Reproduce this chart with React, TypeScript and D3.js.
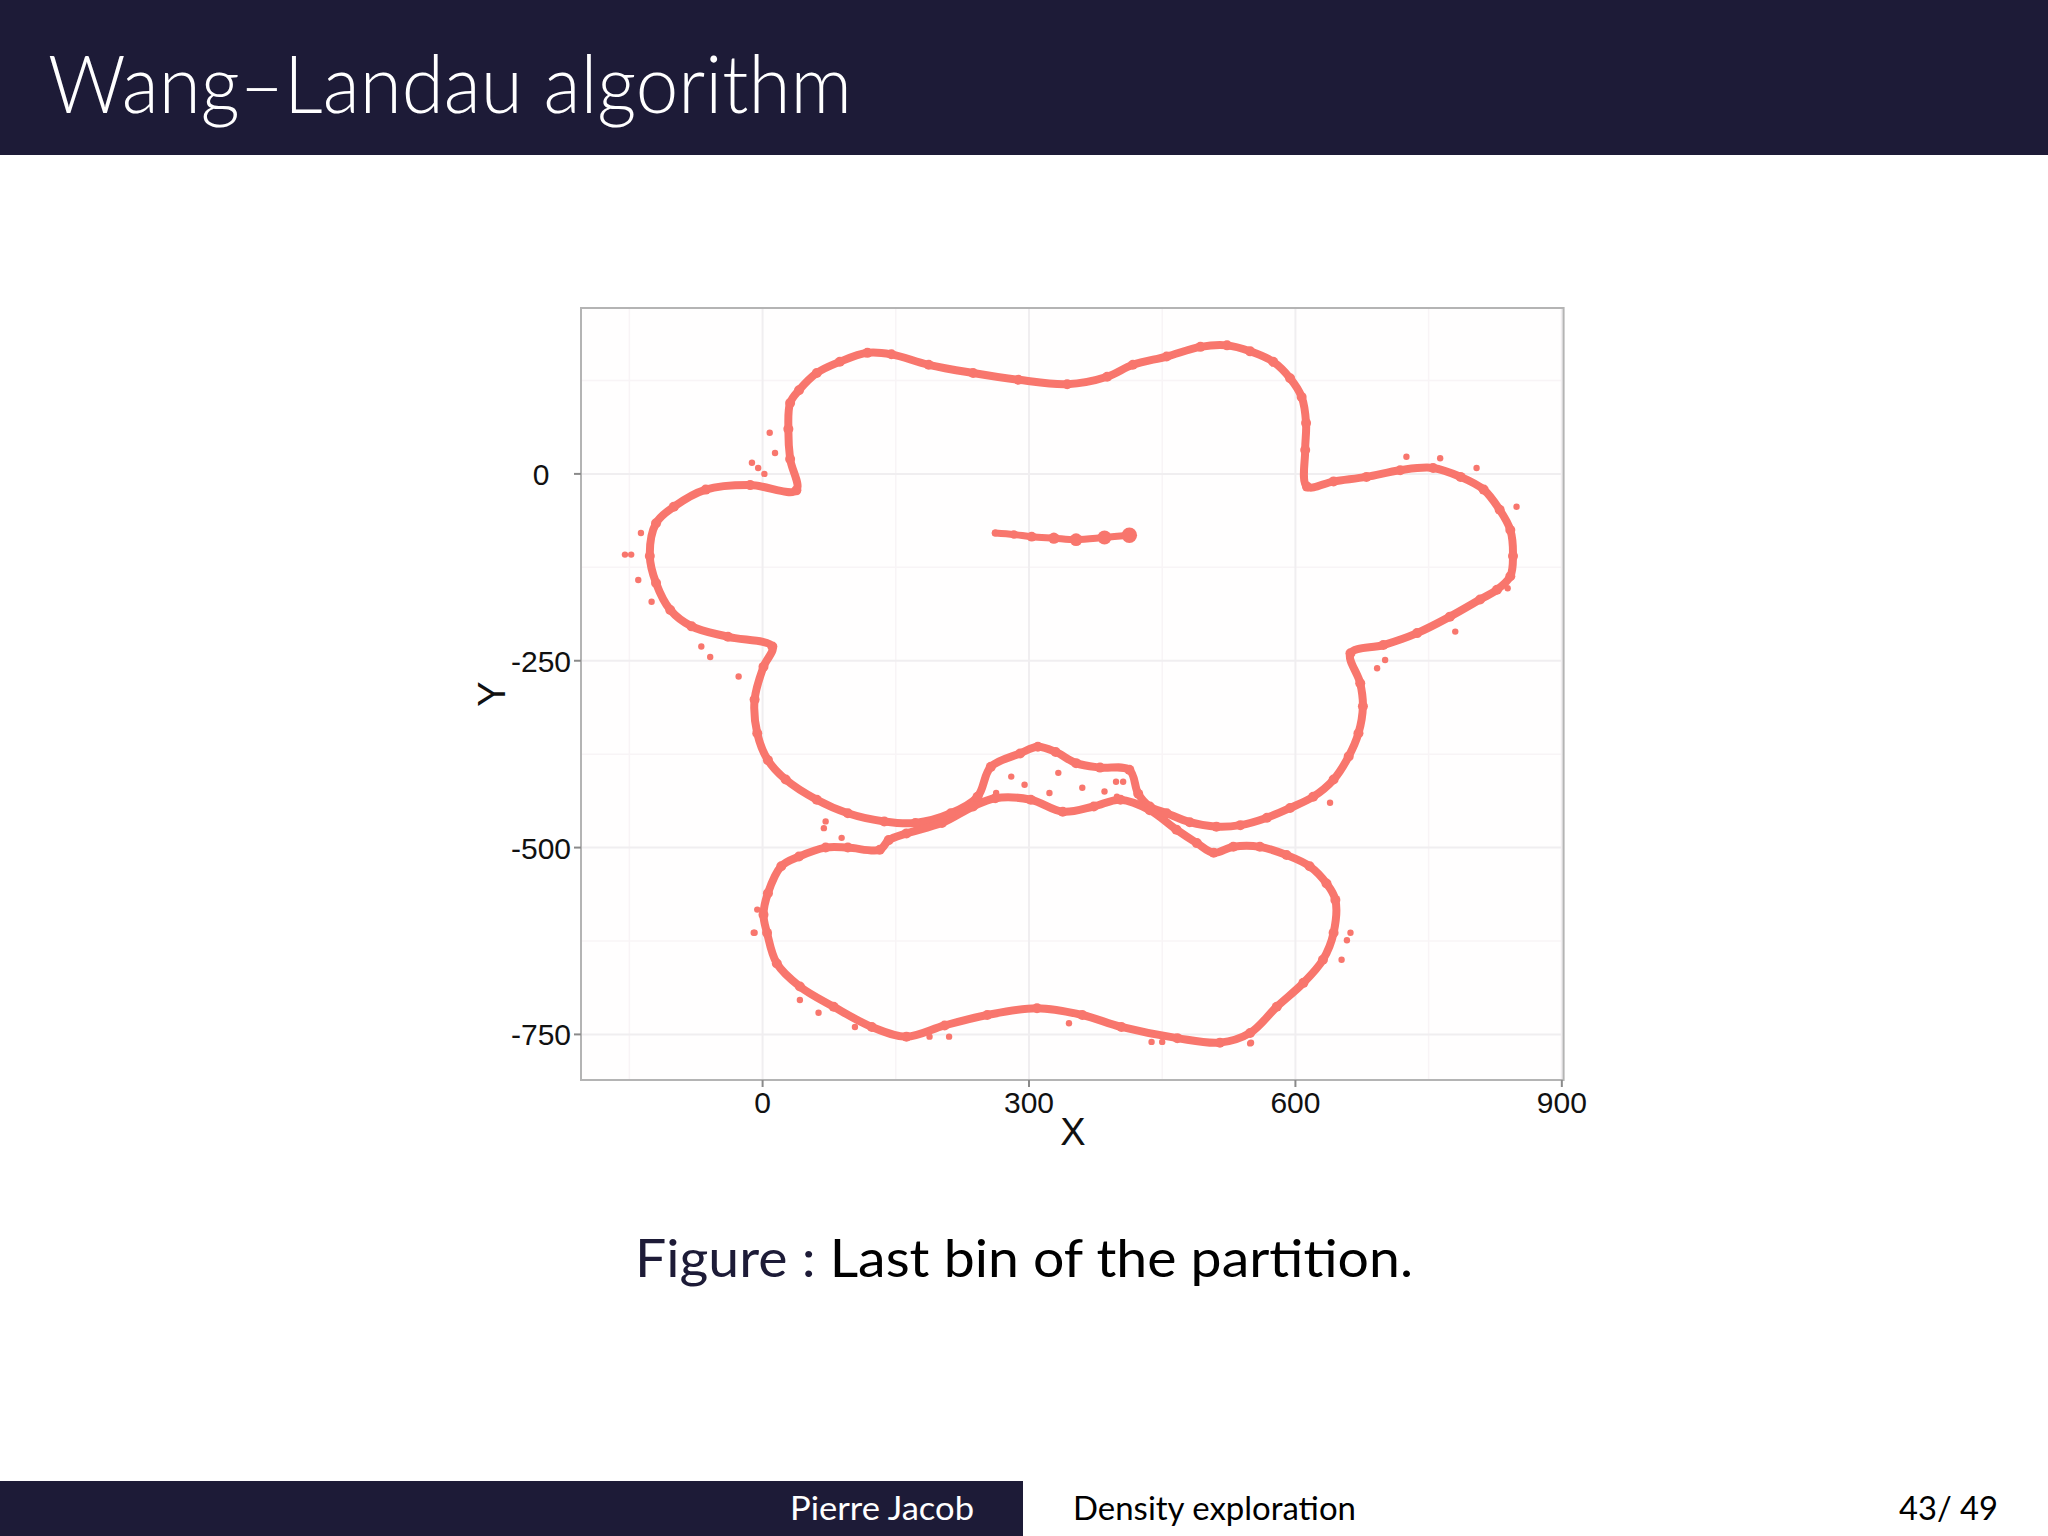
import React from "react";
import * as d3 from "d3";

// ---- data ----
const xTicks = [0, 300, 600, 900];
const yTicks = [0, -250, -500, -750];
const xMinor = [-150, 150, 450, 750];
const yMinor = [125, -125, -375, -625];

// outline of the upper ("face") cloud, clockwise
const faceX = [38, 31, 29, 31, 41, 61, 87, 118, 145, 187, 237, 288, 343, 388, 417, 455, 493, 523, 549, 575, 594, 607, 612, 611, 613,
  643, 680, 718, 755, 786, 812, 830, 842, 845, 842, 827, 808, 774, 737, 699, 662,
  673, 676, 671, 660, 643, 620, 594, 568, 538, 511, 481, 455, 436, 423, 413,
  380, 353, 330, 310, 290, 257,
  242, 212, 172, 137, 96, 61, 26, 6, -6, -9, 1, 11,
  -39, -80, -104, -120, -127, -120, -100, -64, -14];
const faceY = [-22, 20, 60, 95, 112, 135, 150, 162, 160, 146, 135, 126, 120, 130, 146, 157, 170, 172, 164, 150, 128, 103, 68, 32, -17,
  -10, -4, 5, 8, -4, -21, -48, -75, -110, -137, -155, -168, -191, -213, -229, -240,
  -280, -311, -347, -378, -409, -432, -447, -460, -470, -472, -466, -454, -445, -428, -396,
  -393, -387, -372, -365, -374, -392,
  -432, -454, -467, -465, -454, -436, -409, -383, -347, -302, -258, -231,
  -218, -204, -182, -146, -110, -66, -44, -21, -15];

// outline of the lower ("mouth") cloud, clockwise
const mouthX = [21, 41, 71, 96, 132, 142, 162, 202, 237, 262, 302, 338, 373, 403, 436, 466, 489, 508, 530, 560, 590, 616, 635, 645,
  643, 631, 609, 579, 549, 515, 467, 404, 360, 309, 253, 205, 162, 123, 80, 42, 16, 5, 1, 6];
const mouthY = [-525, -512, -500, -500, -503, -490, -481, -467, -445, -434, -436, -452, -445, -436, -450, -476, -494, -507, -499, -499, -510, -525, -548, -570,
  -614, -650, -681, -713, -748, -761, -755, -740, -724, -715, -724, -738, -753, -740, -713, -686, -655, -614, -590, -561];

// small central streak
const streakX = [262, 283, 303, 328, 353, 385, 413];
const streakY = [-79, -81, -84, -86, -88, -85, -82];

// scattered outlying points
const strayX = [-155, -148, -140, -125, -137, -69, -59, -27, 8, 14, -12, -5, 2, 725, 763, 804, 849, 839, 780, 692, 701, 639, 662, 658, 652,
  549, 438, 450, 71, 69, 89, -9, -6, -10, 42, 63, 104, 210, 188, 345, 550, 295, 333, 398, 263, 323, 399, 406, 280, 360, 385];
const strayY = [-108, -108, -142, -171, -79, -231, -245, -271, 55, 28, 15, 8, 0, 23, 21, 8, -44, -153, -211, -260, -249, -440, -614, -624, -650,
  -762, -760, -760, -465, -474, -487, -614, -583, -614, -704, -721, -740, -753, -753, -735, -761, -416, -400, -412, -427, -427, -432, -412, -405, -420, -425];

const xDomain = [-204.5, 902];
const yDomain = [-811, 222];

const POINT = "#F8766D";
const NAVY = "#1d1b37";

export default function App() {
  const left = 581, right = 1563.6, top = 308, bottom = 1080;
  const x = d3.scaleLinear().domain(xDomain).range([left, right]);
  const y = d3.scaleLinear().domain(yDomain).range([bottom, top]);

  const face = faceX.map((v, i) => [v, faceY[i]] as [number, number]);
  const mouth = mouthX.map((v, i) => [v, mouthY[i]] as [number, number]);
  const streak = streakX.map((v, i) => [v, streakY[i]] as [number, number]);
  const stray = strayX.map((v, i) => [v, strayY[i]] as [number, number]);

  const closed = d3.line<[number, number]>().x(d => x(d[0])).y(d => y(d[1])).curve(d3.curveCatmullRomClosed.alpha(0.5));
  const open = d3.line<[number, number]>().x(d => x(d[0])).y(d => y(d[1])).curve(d3.curveCatmullRom.alpha(0.5));

  const axisFont = "'Liberation Sans', Arial, sans-serif";
  const slideFont = "Lato, 'Open Sans', sans-serif";

  return (
    <svg width={2048} height={1536} style={{ position: "absolute", left: 0, top: 0, background: "#fff" }}>
      <rect x={0} y={0} width={2048} height={1536} fill="#ffffff" />
      {/* title bar */}
      <rect x={0} y={0} width={2048} height={155} fill={NAVY} />
      <text x={48} y={113} fill="#ffffff" fontFamily={slideFont} fontWeight={300} fontSize={80} textLength={804} lengthAdjust="spacingAndGlyphs">Wang–Landau algorithm</text>

      {/* panel */}
      <rect x={left} y={top} width={right - left} height={bottom - top} fill="#fffefe" />
      {xMinor.map(v => <line key={"xm" + v} x1={x(v)} x2={x(v)} y1={top} y2={bottom} stroke="#f8f4f6" strokeWidth={1.5} />)}
      {yMinor.map(v => <line key={"ym" + v} y1={y(v)} y2={y(v)} x1={left} x2={right} stroke="#f8f4f6" strokeWidth={1.5} />)}
      {xTicks.map(v => <line key={"xg" + v} x1={x(v)} x2={x(v)} y1={top} y2={bottom} stroke="#f0eef0" strokeWidth={2} />)}
      {yTicks.map(v => <line key={"yg" + v} y1={y(v)} y2={y(v)} x1={left} x2={right} stroke="#f0eef0" strokeWidth={2} />)}

      {/* data */}
      <g fill="none" stroke={POINT} strokeLinejoin="round" strokeLinecap="round">
        <path d={closed(face) || ""} strokeWidth={8} />
        <path d={closed(mouth) || ""} strokeWidth={8} />
        <path d={open(streak) || ""} strokeWidth={7} />
      </g>
      <g fill={POINT}>
        {face.map((d, i) => <circle key={"f" + i} cx={x(d[0])} cy={y(d[1])} r={5} />)}
        {mouth.map((d, i) => <circle key={"m" + i} cx={x(d[0])} cy={y(d[1])} r={5} />)}
        {streak.map((d, i) => <circle key={"s" + i} cx={x(d[0])} cy={y(d[1])} r={3.5 + i * 0.7} />)}
        {stray.map((d, i) => <circle key={"o" + i} cx={x(d[0])} cy={y(d[1])} r={3.2} />)}
      </g>

      {/* panel border and axes */}
      <rect x={left} y={top} width={right - left} height={bottom - top} fill="none" stroke="#b4b4b4" strokeWidth={2} />
      {xTicks.map(v => (
        <g key={"xt" + v}>
          <line x1={x(v)} x2={x(v)} y1={bottom} y2={bottom + 7} stroke="#8a8a8a" strokeWidth={2} />
          <text x={x(v)} y={1113} textAnchor="middle" fontFamily={axisFont} fontSize={30} fill="#111">{v}</text>
        </g>
      ))}
      {yTicks.map(v => (
        <g key={"yt" + v}>
          <line x1={left - 7} x2={left} y1={y(v)} y2={y(v)} stroke="#8a8a8a" strokeWidth={2} />
          <text x={541} y={y(v) + 11} textAnchor="middle" fontFamily={axisFont} fontSize={30} fill="#111">{v}</text>
        </g>
      ))}
      <text x={1073} y={1145} textAnchor="middle" fontFamily={axisFont} fontSize={38} fill="#111">X</text>
      <text transform={`translate(505,694) rotate(-90)`} textAnchor="middle" fontFamily={axisFont} fontSize={38} fill="#111">Y</text>

      {/* caption */}
      <text x={635} y={1277} fontFamily={slideFont} fontSize={53} textLength={778} lengthAdjust="spacingAndGlyphs">
        <tspan fill={NAVY}>Figure :</tspan>
        <tspan fill="#000">  Last bin of the partition.</tspan>
      </text>

      {/* footer */}
      <rect x={0} y={1481} width={1023} height={55} fill={NAVY} />
      <text x={790} y={1520} fill="#fff" fontFamily={slideFont} fontSize={32} textLength={184} lengthAdjust="spacingAndGlyphs">Pierre Jacob</text>
      <text x={1073} y={1520} fill="#000" fontFamily={slideFont} fontSize={32} textLength={283} lengthAdjust="spacingAndGlyphs">Density exploration</text>
      <text x={1899} y={1520} fill="#000" fontFamily={slideFont} fontSize={32} textLength={99} lengthAdjust="spacingAndGlyphs">43/ 49</text>
    </svg>
  );
}
